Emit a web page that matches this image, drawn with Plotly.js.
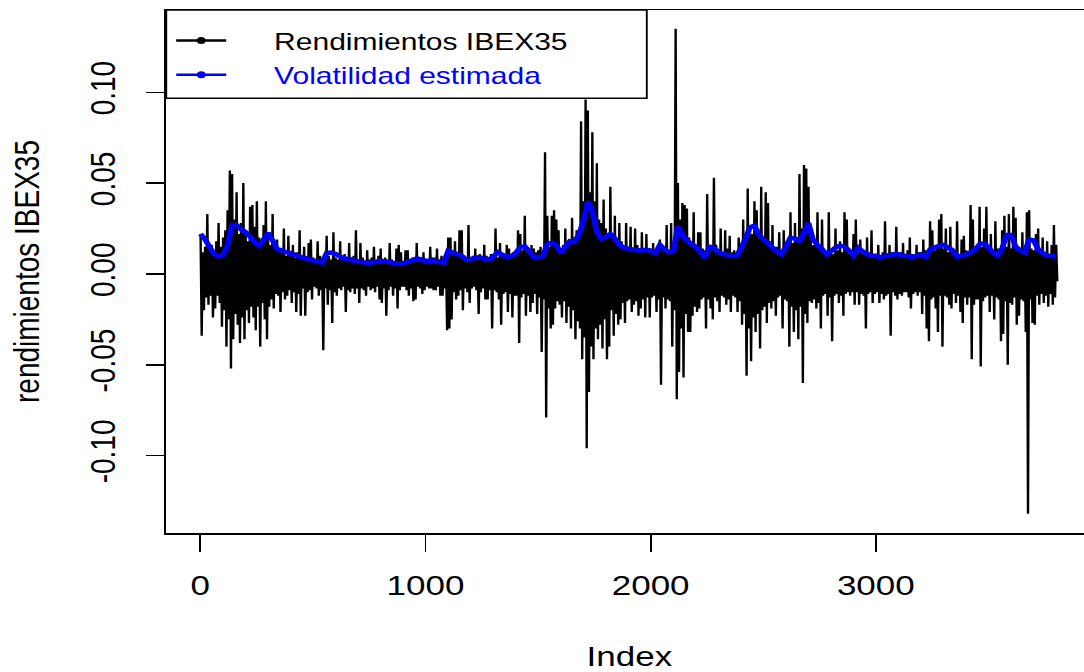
<!DOCTYPE html>
<html>
<head>
<meta charset="utf-8">
<script src="https://cdn.plot.ly/plotly-3.0.1.min.js"></script>
<style>
html, body { margin: 0; padding: 0; background: #ffffff; overflow: hidden; width: 1084px; height: 672px; }
#chart { width: 880px; height: 672px; transform: scaleX(1.25); transform-origin: 0 0; }
</style>
</head>
<body>
<div id="chart"></div>
<script>
// Rendimientos diarios del IBEX35 (cada 5 observaciones, alternando)
const pasoRend = 5;
const rendimientos = [
.022,-.034,.012,-.020,.015,-.013,.033,-.017,.014,-.012,
.016,-.024,.010,-.019,.018,-.012,.028,-.016,.015,-.029,
.020,-.020,.024,-.040,.035,-.025,.057,-.052,.055,-.036,
.030,-.022,.045,-.028,.022,-.038,.028,-.024,.050,-.036,
.024,-.020,.018,-.027,.037,-.018,.038,-.024,.026,-.031,
.040,-.018,.020,-.040,.017,-.016,.027,-.025,.040,-.036,
.022,-.018,.016,-.014,.033,-.019,.014,-.011,.019,-.012,
.013,-.021,.012,-.010,.025,-.014,.010,-.012,.021,-.009,
.011,-.016,.016,-.010,.009,-.021,.012,-.011,.024,-.023,
.010,-.008,.015,-.023,.009,-.010,.017,-.009,.019,-.014,
.009,-.007,.008,-.008,.018,-.012,.010,-.009,.007,-.042,
.009,-.008,.021,-.017,.010,-.009,.008,-.027,.023,-.010,
.009,-.012,.008,-.008,.018,-.009,.010,-.007,.011,-.021,
.008,-.009,.017,-.010,.009,-.008,.010,-.011,.024,-.008,
.008,-.016,.017,-.008,.009,-.009,.007,-.012,.013,-.007,
.008,-.009,.009,-.008,.015,-.010,.007,-.007,.010,-.014,
.014,-.016,.008,-.008,.009,-.023,.007,-.009,.017,-.007,
.008,-.012,.007,-.008,.014,-.019,.016,-.009,.012,-.007,
.007,-.007,.013,-.009,.013,-.012,.008,-.008,.009,-.015,
.008,-.014,.017,-.007,.007,-.008,.009,-.011,.012,-.009,
.008,-.007,.007,-.008,.015,-.008,.009,-.009,.009,-.009,
.014,-.007,.008,-.012,.010,-.012,.007,-.008,.009,-.031,
.020,-.030,.020,-.025,.011,-.010,.018,-.014,.010,-.012,
.024,-.009,.024,-.020,.010,-.008,.009,-.010,.027,-.016,
.009,-.008,.010,-.007,.014,-.009,.008,-.022,.011,-.010,
.009,-.008,.016,-.014,.010,-.014,.008,-.009,.011,-.030,
.010,-.009,.025,-.010,.009,-.014,.017,-.028,.011,-.011,
.010,-.010,.016,-.021,.014,-.011,.009,-.024,.012,-.012,
.012,-.012,.024,-.038,.022,-.013,.013,-.011,.032,-.023,
.012,-.012,.013,-.021,.016,-.016,.014,-.011,.012,-.022,
.013,-.013,.015,-.043,.012,-.014,.067,-.079,.032,-.019,
.015,-.030,.032,-.028,.035,-.019,.030,-.015,.024,-.017,
.014,-.024,.016,-.015,.025,-.027,.015,-.018,.017,-.030,
.031,-.020,.020,-.036,.024,-.026,.022,-.030,.084,-.047,
.040,-.035,.096,-.096,.090,-.065,.045,-.040,.078,-.047,
.040,-.030,.061,-.036,.030,-.028,.028,-.041,.041,-.025,
.025,-.047,.022,-.040,.048,-.020,.020,-.034,.032,-.022,
.016,-.028,.028,-.025,.018,-.016,.015,-.027,.028,-.015,
.015,-.014,.026,-.021,.014,-.017,.025,-.015,.016,-.023,
.014,-.019,.023,-.014,.013,-.024,.022,-.013,.014,-.024,
.013,-.013,.017,-.012,.012,-.021,.014,-.014,.019,-.061,
.014,-.013,.015,-.019,.027,-.014,.013,-.015,.028,-.040,
.016,-.020,.135,-.069,.050,-.054,.030,-.030,.039,-.057,
.038,-.022,.036,-.032,.020,-.032,.018,-.023,.034,-.018,
.015,-.021,.023,-.019,.023,-.014,.014,-.013,.013,-.030,
.044,-.014,.015,-.019,.014,-.025,.053,-.013,.016,-.015,
.013,-.021,.025,-.012,.012,-.013,.024,-.017,.014,-.014,
.021,-.021,.012,-.012,.013,-.013,.011,-.021,.020,-.015,
.016,-.028,.030,-.022,.020,-.056,.047,-.030,.025,-.048,
.022,-.024,.040,-.032,.035,-.022,.024,-.041,.048,-.020,
.020,-.018,.045,-.027,.039,-.016,.018,-.019,.027,-.015,
.014,-.023,.015,-.013,.023,-.012,.013,-.030,.024,-.014,
.015,-.015,.016,-.040,.034,-.018,.017,-.032,.028,-.020,
.020,-.036,.055,-.018,.025,-.060,.060,-.022,.058,-.027,
.048,-.015,.020,-.016,.016,-.014,.018,-.019,.034,-.016,
.014,-.030,.030,-.012,.013,-.011,.012,-.023,.034,-.013,
.012,-.037,.011,-.012,.025,-.011,.013,-.016,.018,-.012,
.012,-.023,.034,-.011,.030,-.010,.011,-.012,.013,-.010,
.022,-.017,.030,-.010,.012,-.017,.019,-.011,.011,-.012,
.011,-.030,.020,-.011,.012,-.010,.024,-.016,.010,-.011,
.011,-.010,.016,-.016,.010,-.011,.012,-.014,.029,-.012,
.011,-.011,.016,-.034,.012,-.010,.010,-.012,.026,-.014,
.011,-.011,.012,-.012,.017,-.010,.010,-.010,.013,-.013,
.020,-.019,.011,-.011,.010,-.010,.016,-.012,.012,-.010,
.012,-.022,.019,-.012,.013,-.030,.011,-.037,.029,-.014,
.024,-.013,.013,-.019,.014,-.032,.030,-.012,.033,-.040,
.014,-.012,.025,-.013,.012,-.017,.026,-.019,.013,-.011,
.012,-.016,.029,-.012,.011,-.021,.019,-.027,.021,-.013,
.013,-.017,.012,-.013,.038,-.047,.030,-.017,.014,-.014,
.013,-.014,.037,-.051,.015,-.015,.025,-.013,.037,-.012,
.013,-.021,.022,-.012,.012,-.025,.029,-.013,.014,-.014,
.014,-.037,.024,-.033,.032,-.015,.015,-.050,.033,-.016,
.014,-.017,.037,-.013,.031,-.028,.013,-.023,.012,-.014,
.023,-.015,.013,-.032,.034,-.132,.035,-.014,.014,-.027,
.013,-.028,.022,-.012,.025,-.017,.012,-.011,.020,-.016,
.012,-.012,.018,-.018,.011,-.011,.016,-.017,.027,-.013,
.016,-.004
];

// Volatilidad estimada (cada 20 observaciones)
const pasoVol = 20;
const volatilidad = [
.022,.019,.015,.011,.0097,.0105,.016,.027,.027,.0245,
.023,.0205,.0175,.0156,.019,.0225,.0185,.0137,.013,.012,
.0115,.0105,.0095,.009,.0082,.0075,.0068,.0064,.0115,.0118,
.011,.0095,.0085,.0082,.0075,.0068,.0065,.0062,.0063,.0068,
.0072,.007,.0066,.006,.0058,.006,.0068,.0075,.0085,.008,
.0072,.0074,.0073,.0068,.0062,.0128,.0118,.011,.01,.0078,
.0082,.009,.0092,.0085,.008,.0095,.012,.0105,.0095,.0098,
.0115,.0147,.0152,.0125,.0095,.0094,.0098,.0165,.0172,.016,
.0115,.015,.018,.0178,.0215,.029,.040,.035,.023,.0195,
.0205,.022,.0195,.016,.0145,.0138,.0135,.013,.013,.0133,
.0128,.0115,.016,.0135,.012,.0125,.0265,.0215,.0183,.0165,
.015,.012,.009,.015,.0145,.012,.011,.0105,.0102,.01,
.014,.0195,.0256,.0266,.0215,.019,.017,.0145,.0125,.011,
.015,.02,.0195,.0183,.0225,.028,.019,.016,.0137,.0108,
.0125,.0145,.0156,.015,.013,.0102,.0145,.0125,.0108,.01,
.01,.0092,.0098,.0105,.011,.0108,.0102,.0098,.0094,.01,
.0108,.0094,.0135,.0145,.0155,.016,.0145,.013,.0095,.01,
.0108,.012,.0135,.0163,.017,.0145,.0115,.0103,.014,.0215,
.0215,.015,.013,.012,.019,.0185,.0135,.0115,.0102,.01,
.0095
];

const xTicks = [0, 1000, 2000, 3000];
const xTickText = ['0', '1000', '2000', '3000'];
const yTicks = [-0.10, -0.05, 0.00, 0.05, 0.10];
const yTickText = ['-0.10', '-0.05', '0.00', '0.05', '0.10'];
const nombres = ['Rendimientos IBEX35', 'Volatilidad estimada'];

const xRend = rendimientos.map((_, k) => 1 + pasoRend * k);
const xVol = volatilidad.map((_, k) => 1 + pasoVol * k);

const FONT = 'Liberation Sans, Arial, sans-serif';
const pad = '\u00a0\u00a0\u00a0\u00a0\u00a0';

const traces = [
  { x: xRend, y: rendimientos, type: 'scatter', mode: 'lines', showlegend: false,
    line: { color: '#000000', width: 1.9, simplify: false }, hoverinfo: 'skip' },
  { x: xVol, y: volatilidad, type: 'scatter', mode: 'lines', showlegend: false,
    line: { color: '#0000ff', width: 4.5, simplify: false }, hoverinfo: 'skip' },
  { x: [null], y: [null], type: 'scatter', mode: 'lines+markers', name: pad + nombres[0],
    line: { color: '#000000', width: 2.5 }, marker: { color: '#000000', size: 7 } },
  { x: [null], y: [null], type: 'scatter', mode: 'lines+markers',
    name: pad + '<span style="color:#0000ff">' + nombres[1] + '</span>',
    line: { color: '#0000ff', width: 2.5 }, marker: { color: '#0000ff', size: 7 } }
];

const layout = {
  width: 880, height: 672,
  margin: { l: 133.4, r: 6.4, t: 10, b: 139, pad: 0 },
  paper_bgcolor: '#ffffff', plot_bgcolor: '#ffffff',
  font: { family: FONT, color: '#000000', size: 28 },
  showlegend: true,
  legend: {
    x: 0.004, y: 0.984, xanchor: 'left', yanchor: 'top',
    bgcolor: 'rgba(0,0,0,0)', borderwidth: 0,
    font: { family: FONT, size: 24, color: '#000000' },
    itemwidth: 40, tracegroupgap: 0
  },
  shapes: [
    { type: 'rect', xref: 'paper', yref: 'paper', x0: 0, x1: 0.5188, y0: 0.8312, y1: 1,
      fillcolor: '#ffffff', line: { color: '#000000', width: 1.5 }, layer: 'above' }
  ],
  xaxis: {
    range: [-151.4, 3962.4], tickvals: xTicks, ticktext: xTickText,
    ticks: 'outside', ticklen: 17, tickwidth: 1.5, tickcolor: '#000000',
    showline: true, mirror: true, linewidth: 1.5, linecolor: '#000000',
    showgrid: false, zeroline: false, ticklabelstandoff: 10,
    tickfont: { family: FONT, size: 28, color: '#000000' },
    title: { text: 'Index', font: { family: FONT, size: 28, color: '#000000' }, standoff: 46 }
  },
  yaxis: {
    range: [-0.1426, 0.1453], tickvals: yTicks, ticktext: yTickText, tickangle: -90,
    ticks: 'outside', ticklen: 15, tickwidth: 1.5, tickcolor: '#000000',
    showline: true, mirror: true, linewidth: 1.5, linecolor: '#000000',
    showgrid: false, zeroline: false, ticklabelstandoff: 13,
    tickfont: { family: FONT, size: 28, color: '#000000' },
    title: { text: 'rendimientos IBEX35', font: { family: FONT, size: 28, color: '#000000' }, standoff: 27 }
  }
};

Plotly.newPlot('chart', traces, layout, { staticPlot: true, displayModeBar: false });
</script>
</body>
</html>
